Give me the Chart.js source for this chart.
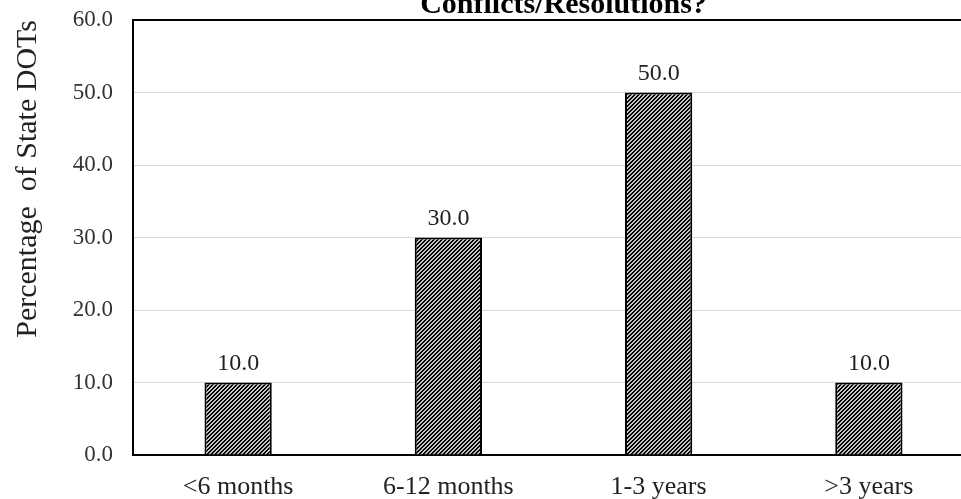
<!DOCTYPE html>
<html>
<head>
<meta charset="utf-8">
<script src="https://cdn.jsdelivr.net/npm/chart.js@4/dist/chart.umd.min.js"></script>
<style>
  html, body { margin: 0; padding: 0; background: #fff; overflow: hidden; width: 961px; height: 499px; }
  #chart { display: block; margin-top: -16px; }
</style>
</head>
<body>
<canvas id="chart" width="974" height="515"></canvas>
<script>
// Time taken to settle conflicts / resolutions (share of state DOTs)
const categories = ['<6 months', '6-12 months', '1-3 years', '>3 years'];
const percentages = [10.0, 30.0, 50.0, 10.0];
const yTicks = [0, 10, 20, 30, 40, 50, 60];

const SERIF = "'Liberation Serif', 'Times New Roman', serif";

// Dense diagonal hatch fill for the bars
function makeHatch() {
  const c = document.createElement('canvas');
  c.width = 4; c.height = 4;
  const g = c.getContext('2d');
  g.fillStyle = '#c4c4c4';
  g.fillRect(0, 0, 4, 4);
  g.fillStyle = '#000';
  for (let x = 0; x < 4; x++) {
    for (let y = 0; y < 4; y++) {
      if ((x + y) % 4 < 2) g.fillRect(x, y, 1, 1);
    }
  }
  return g.createPattern(c, 'repeat');
}

// Value written above each bar
const barValueLabels = {
  id: 'barValueLabels',
  afterDatasetsDraw(chart) {
    const ctx = chart.ctx;
    const meta = chart.getDatasetMeta(0);
    ctx.save();
    ctx.font = '24px ' + SERIF;
    ctx.fillStyle = '#222';
    ctx.textAlign = 'center';
    ctx.textBaseline = 'alphabetic';
    meta.data.forEach((bar, i) => {
      const v = chart.data.datasets[0].data[i];
      ctx.fillText(v.toFixed(1), bar.x, bar.y - 13);
    });
    ctx.restore();
  }
};

// Nudge the chart title a little to the right of the plot centre
const titleShift = {
  id: 'titleShift',
  afterLayout(chart) {
    const t = chart.titleBlock;
    if (t) { t.left += 10; t.right += 10; }
  }
};

const hatch = makeHatch();

new Chart(document.getElementById('chart'), {
  type: 'bar',
  data: {
    labels: categories,
    datasets: [{
      data: percentages,
      backgroundColor: hatch,
      borderColor: '#000',
      borderWidth: 2,
      barPercentage: 0.32,
      categoryPercentage: 1.0
    }]
  },
  options: {
    responsive: false,
    devicePixelRatio: 1,
    animation: false,
    layout: { padding: { left: 0, right: 0, top: 0, bottom: 0 } },
    plugins: {
      legend: { display: false },
      tooltip: { enabled: false },
      title: {
        display: true,
        text: 'Conflicts/Resolutions?',
        fullSize: false,
        color: '#000',
        font: { family: SERIF, size: 30, weight: 'bold', lineHeight: 1.1 },
        padding: { top: 4.5, bottom: -1.5 }
      }
    },
    scales: {
      x: {
        grid: { display: false, drawTicks: false },
        border: { display: true, color: '#000', width: 2 },
        ticks: {
          color: '#222',
          font: { family: SERIF, size: 26 },
          padding: 17,
          maxRotation: 0
        },
        afterFit(s) { s.height = 44; }
      },
      y: {
        min: 0,
        max: 60,
        afterBuildTicks(s) { s.ticks = yTicks.map(v => ({ value: v })); },
        grid: {
          drawTicks: false,
          color: ctx => (ctx.tick && ctx.tick.value === 60 ? '#000' : '#d9d9d9'),
          lineWidth: ctx => (ctx.tick && ctx.tick.value === 60 ? 2 : 1)
        },
        border: { display: true, color: '#000', width: 2 },
        ticks: {
          color: '#333',
          font: { family: SERIF, size: 23 },
          padding: 20,
          callback: v => Number(v).toFixed(1)
        },
        title: {
          display: true,
          text: 'Percentage  of State DOTs',
          align: 'end',
          color: '#222',
          font: { family: SERIF, size: 30 },
          padding: { top: 10, bottom: 0 }
        },
        afterFit(s) { s.width = 133; }
      }
    }
  },
  plugins: [barValueLabels, titleShift]
});
</script>
</body>
</html>
